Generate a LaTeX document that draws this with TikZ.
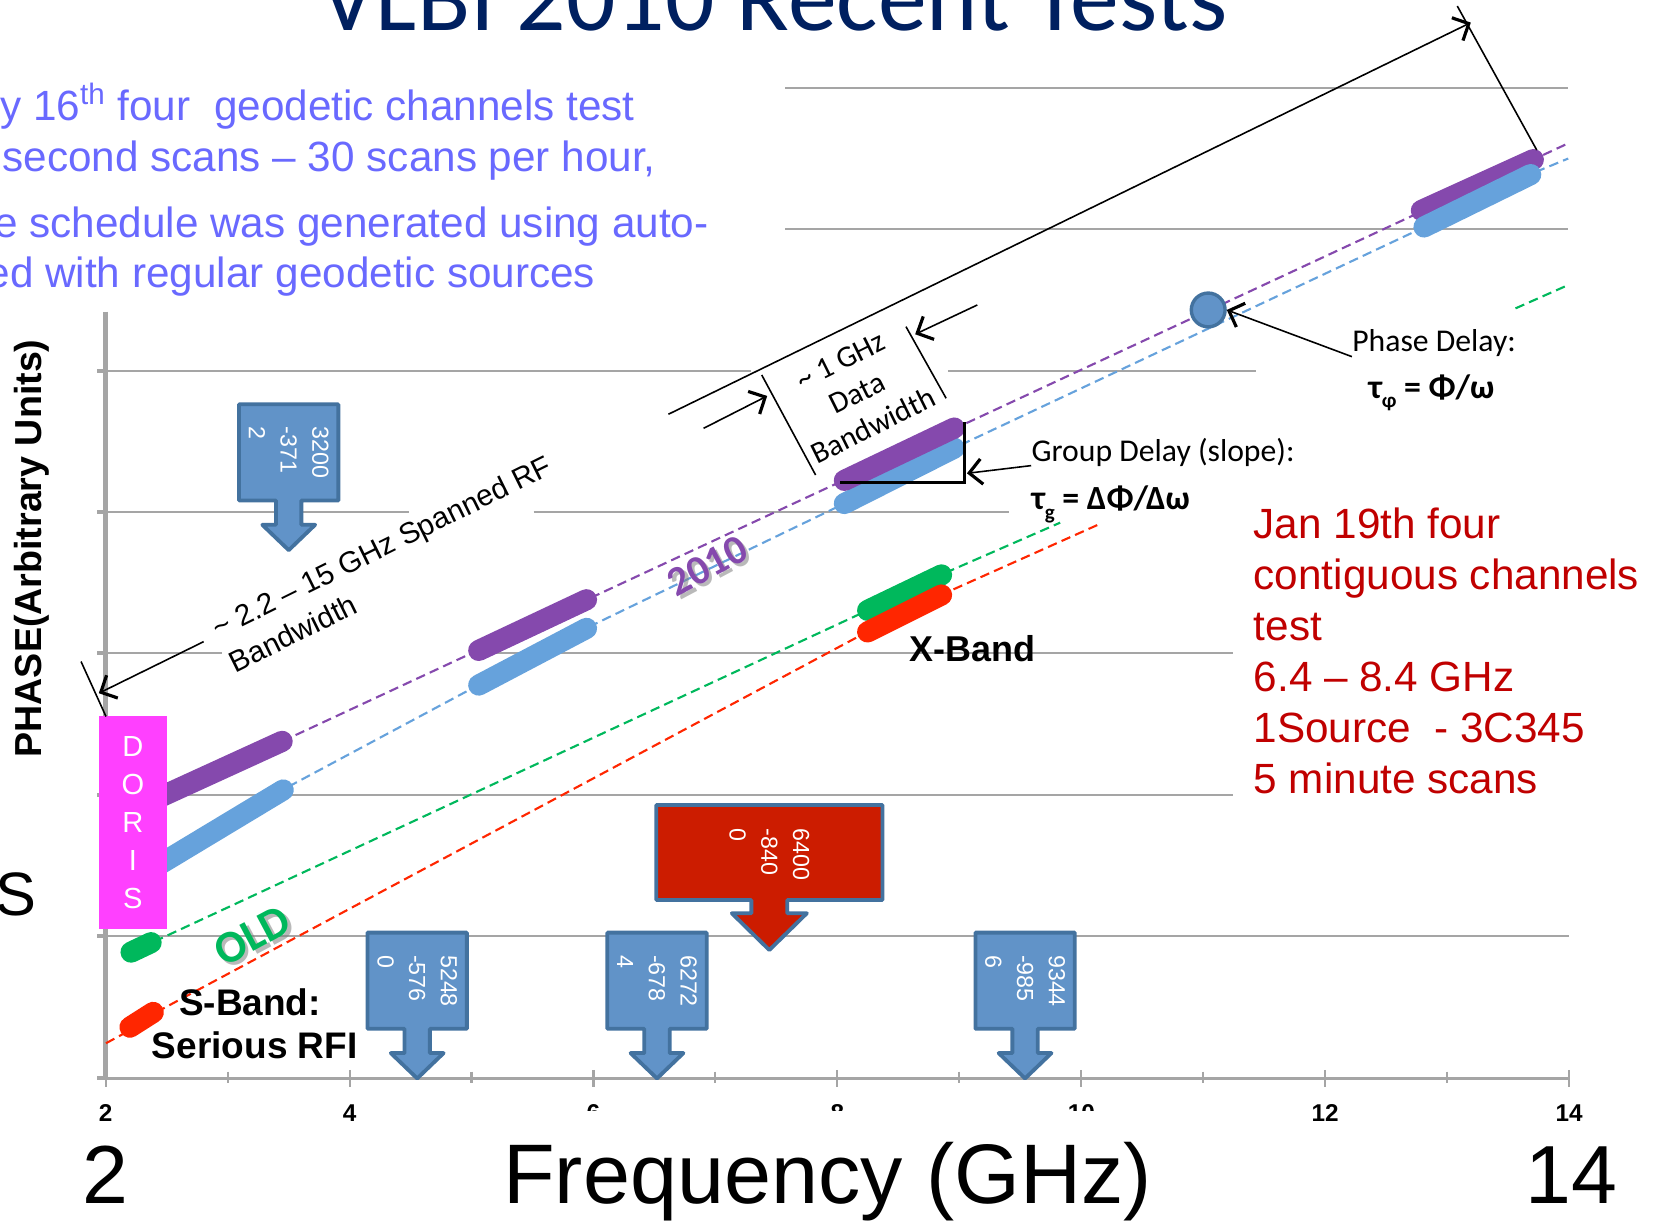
\documentclass[tikz,border=0pt]{standalone}
\usepackage{fontspec}
\usepackage{graphicx}
\setmainfont{Liberation Sans}
\newfontfamily\calibri{Carlito}
\usetikzlibrary{arrows.meta}
\definecolor{navy}{RGB}{0,32,96}
\definecolor{bullettxt}{RGB}{105,105,255}
\definecolor{gridgray}{RGB}{165,165,165}
\definecolor{purp}{RGB}{133,73,173}
\definecolor{lblue}{RGB}{102,162,220}
\definecolor{grn}{RGB}{0,184,92}
\definecolor{rd}{RGB}{255,38,0}
\definecolor{cfill}{RGB}{97,147,200}
\definecolor{cedge}{RGB}{67,114,159}
\definecolor{cred}{RGB}{204,28,0}
\definecolor{mag}{RGB}{255,64,255}
\definecolor{dred}{RGB}{192,0,0}
\newcommand\fs[2]{\fontsize{#1}{#2}\selectfont}
\newcommand\lowsub[1]{\raisebox{-0.28em}{\scalebox{0.62}{#1}}}
\newcommand\smallcall[4]{%
  \begin{scope}[shift={(#2,#3)}]
    \draw[callout] (-47,0) -- (47,0) -- (47,91) -- (12,91) -- (12,114) -- (25,114) -- (0,138) -- (-25,114) -- (-12,114) -- (-12,91) -- (-47,91) -- cycle;
    \node[calltext] (#1) at (0,21) {#4};
  \end{scope}}
\begin{document}
\begin{tikzpicture}[x=0.5pt,y=-0.5pt,
  gridln/.style={draw=gridgray,line width=1.1pt},
  dashln/.style={line width=1pt,dash pattern=on 4.5pt off 2.5pt},
  bar/.style={line width=10pt,line cap=round},
  callout/.style={fill=cfill,draw=cedge,line width=1.8pt,line join=round},
  calltext/.style={rotate=-90,anchor=west,inner sep=0pt,text=white,align=left,font=\fs{11}{15}},
  annot/.style={draw=black,line width=0.75pt},
  arr/.style={annot,-{Straight Barb[length=6pt,width=12pt,line width=1.5pt]}},
  lbl/.style={inner sep=0pt},
  redtxt/.style={lbl,anchor=base west,text=dred,font=\fs{20}{24}},
  bul/.style={lbl,anchor=base east,text=bullettxt,font=\fs{20}{24}}]
\useasboundingbox (0,0) rectangle (1568,1156);

% grid lines
\draw[gridln] (100,885.7) -- (1485,885.7);
\draw[gridln] (100,752.3) -- (1167,752.3);
\draw[gridln] (100,618.2) -- (210,618.2) (445,618.2) -- (1167,618.2);
\draw[gridln] (100,484.5) -- (387,484.5) (505,484.5) -- (955,484.5);
\draw[gridln] (100,350.8) -- (711,350.8) (897,350.8) -- (1188.5,350.8);
\draw[gridln] (743,216.7) -- (1484,216.7);
\draw[gridln] (743,83) -- (1484,83);

% axes
\draw[draw=gridgray,line width=1.2pt] (100,1020.4) -- (1485,1020.4);
\foreach \i in {0,2,...,12} \draw[draw=gridgray,line width=1pt] (100+115.4*\i,1012.5) -- (100+115.4*\i,1028.3);
\foreach \i in {1,3,...,11} \draw[draw=gridgray,line width=1pt] (100+115.4*\i,1014) -- (100+115.4*\i,1025);
\draw[draw=gridgray,line width=2.3pt] (100,295) -- (100,1022);
\foreach \y in {350.8,484.5,618.2,752.3,885.7,1020.4} \draw[draw=gridgray,line width=2pt] (92,\y) -- (100,\y);

% tick labels
\foreach \v [count=\i from 0] in {2,4,...,14}
  \node[lbl,anchor=base,font=\bfseries\fs{11.5}{13}] (tl\v) at (100+230.8*\i,1061) {\v};
\fill[white] (465,1051) rectangle (1110,1156);
\node[lbl,anchor=base,font=\fs{40}{44}] (freq) at (783,1138.6) {Frequency (GHz)};
\node[lbl,anchor=base,font=\fs{39}{44}] (big2) at (100,1138.6) {2};
\node[lbl,anchor=base,font=\fs{39}{44}] (big14) at (1487,1138.6) {14};
\node[lbl,anchor=base,rotate=90,font=\bfseries\fs{17.8}{20}] (ylab) at (39,519) {PHASE(Arbitrary Units)};
\node[lbl,anchor=base east,font=\fs{29}{32}] (bigS) at (35,866) {S};

% dashed trend lines
\draw[dashln,purp] (267,701.5) -- (1484,135.6);
\draw[dashln,lblue] (273,744.4) -- (447,651.3) -- (561,591.4) -- (793,479.4) -- (909,421.1) -- (1342,217.6) -- (1454,162.4) -- (1484,150);
\draw[dashln,grn] (145.9,891) -- (815,580.4) -- (897,541) -- (1003.2,494.6);
\draw[dashln,grn] (1434.1,291.8) -- (1484,269.7);
\draw[dashln,rd] (100.3,987.2) -- (123.5,974.6) -- (145.9,958.9) -- (815,600.9) -- (897.3,559.9) -- (1038.5,496.8);

% thick bars
\draw[bar,purp] (150,755) -- (267,701.5);
\draw[bar,lblue] (150,818.6) -- (268,747.5);
\draw[bar,purp] (453,615.5) -- (555,567.5);
\draw[bar,lblue] (453,648.3) -- (555,594.6);
\draw[bar,lblue] (799,476.5) -- (903,424);
\draw[bar,purp] (799,454.6) -- (903,405);
\draw[bar,purp] (1345,199.2) -- (1451,151);
\draw[bar,lblue] (1347.5,214.8) -- (1448.5,165.2);
\draw[bar,grn] (124,901) -- (143,892);
\draw[bar,grn] (821,577.6) -- (891,544);
\draw[bar,rd] (123,972) -- (145,958);
\draw[bar,rd] (821,598) -- (891,563);

% group delay right angle
\coordinate (raA) at (795.3,456.7);
\coordinate (raC) at (913,456.7);
\coordinate (raB) at (913,399);
\draw[line width=1.3pt] (raA) -- (raC) -- (raB);

% phase delay point
\node[circle,fill=cfill,draw=cedge,line width=1.6pt,minimum size=16pt,inner sep=0pt] (phase) at (1143.3,293.3) {};

% callouts
\smallcall{cA}{273.2}{382.6}{3200\\-371\\2}
\smallcall{cB}{394.8}{882.5}{5248\\-576\\0}
\smallcall{cC}{621.7}{882.5}{6272\\-678\\4}
\smallcall{cE}{970}{882.5}{9344\\-985\\6}
\begin{scope}[shift={(728,761.7)}]
  \draw[callout,fill=cred] (-107,0) -- (107,0) -- (107,90) -- (17,90) -- (17,102.5) -- (35.5,102.5) -- (0,137.3) -- (-35.5,102.5) -- (-17,102.5) -- (-17,90) -- (-107,90) -- cycle;
  \node[calltext] (cD) at (0,22) {6400\\-840\\0};
\end{scope}

% DORIS
\node[fill=mag,inner sep=0pt,minimum width=32.2pt,minimum height=101pt,text=white,align=center,font=\fs{13.75}{17.9}] (doris) at (125.7,778.5) {D\\O\\R\\I\\S};

% labels on chart
\node[lbl,rotate=28,font=\calibri\bfseries\fs{19.5}{20},text=gray,opacity=0.55] (y2010s) at (672.5,538.4) {2010};
\node[lbl,rotate=28,font=\calibri\bfseries\fs{19.5}{20},text=purp] (y2010) at (669.5,535.4) {2010};
\node[lbl,rotate=28,font=\calibri\bfseries\fs{21.5}{22},text=gray,opacity=0.55] (olds) at (242,888.5) {OLD};
\node[lbl,rotate=28,font=\calibri\bfseries\fs{21.5}{22},text=grn] (old) at (239,885.5) {OLD};
\node[lbl,anchor=base west,font=\bfseries\fs{17}{20}] (xband) at (860,625.5) {X-Band};
\node[lbl,anchor=base,font=\bfseries\fs{17.5}{20}] (sband) at (236.5,961.4) {S-Band:};
\node[lbl,anchor=base,font=\bfseries\fs{17.5}{20}] (rfi) at (241,1001.4) {Serious RFI};

\node[lbl,anchor=base west,rotate=26.3,font=\fs{14}{18}] (rfA) at (206.6,604.8) {\textasciitilde{} 2.2 – 15 GHz Spanned RF};
\node[lbl,anchor=base west,rotate=26.3,font=\fs{14}{18}] (rfB) at (222.6,637.1) {Bandwidth};
\node[lbl,rotate=26.4,align=center,font=\calibri\fs{14.4}{17.2}] (gbw) at (811,372.2) {\textasciitilde{} 1 GHz\\Data\\Bandwidth};

\node[lbl,anchor=base west,font=\calibri\fs{15}{18}] (gdtxt) at (975.8,436.9) {Group Delay (slope):};
\node[lbl,anchor=base west,font=\calibri\bfseries\fs{16}{18}] (gdeq) at (975.8,482.6) {τ\lowsub{g} = ΔΦ/Δω};
\node[lbl,anchor=base west,font=\calibri\fs{15}{18}] (pdtxt) at (1279.3,332.8) {Phase Delay:};
\node[lbl,anchor=base west,font=\calibri\bfseries\fs{16}{18}] (pdeq) at (1294.6,376.8) {τ\lowsub{φ} = Φ/ω};

% red text block
\foreach \t [count=\i from 0] in {Jan 19th four,contiguous channels,test,6.4 – 8.4 GHz,1Source~ - 3C345,5 minute scans}
  \node[redtxt] (red\i) at (1186,509.4+48.3*\i) {\t};

% annotation lines and arrows
\coordinate (rfFrom) at (192.7,607.2);
\coordinate (rfTo) at (93.5,656);
\draw[arr] (rfFrom) -- (rfTo);
\coordinate (extA) at (76.7,626);
\coordinate (extB) at (100.3,678);
\draw[annot] (extA) -- (extB);
\coordinate (dimL) at (632.5,392);
\coordinate (dimR) at (1391.8,21.4);
\draw[arr] (dimL) -- (dimR);
\coordinate (ext1) at (1379,5.7);
\coordinate (ext2) at (1454.2,142);
\draw[annot] (ext1) -- (ext2);
\coordinate (l1a) at (720.8,354.8);
\coordinate (l1b) at (771.8,449.5);
\draw[annot] (l1a) -- (l1b);
\coordinate (l2a) at (857.3,309.1);
\coordinate (l2b) at (895.3,376.9);
\draw[annot] (l2a) -- (l2b);
\coordinate (a1f) at (665.8,405.3);
\coordinate (a1t) at (726,374.7);
\draw[arr] (a1f) -- (a1t);
\coordinate (a2f) at (924.8,288.6);
\coordinate (a2t) at (866,316.3);
\draw[arr] (a2f) -- (a2t);
\coordinate (gdFrom) at (975.8,440.6);
\coordinate (gdTo) at (915,447.9);
\draw[arr] (gdFrom) -- (gdTo);
\coordinate (pdFrom) at (1279.3,337.5);
\draw[arr] (pdFrom) -- (phase.east);

% title and bullet text
\node[lbl,anchor=base west,text=navy,font=\calibri\fs{46.2}{50}] (title) at (303,29) {VLBI 2010 Recent Tests};
\node[bul] (b1) at (601,114.2) {y 16\textsuperscript{th} four\ \ geodetic channels test};
\node[bul] (b2) at (621,162.5) {second scans – 30 scans per hour,};
\node[bul] (b3) at (671,224.6) {e schedule was generated using auto-};
\node[bul] (b4) at (563.6,271.9) {ed with regular geodetic sources};
\end{tikzpicture}
\end{document}
